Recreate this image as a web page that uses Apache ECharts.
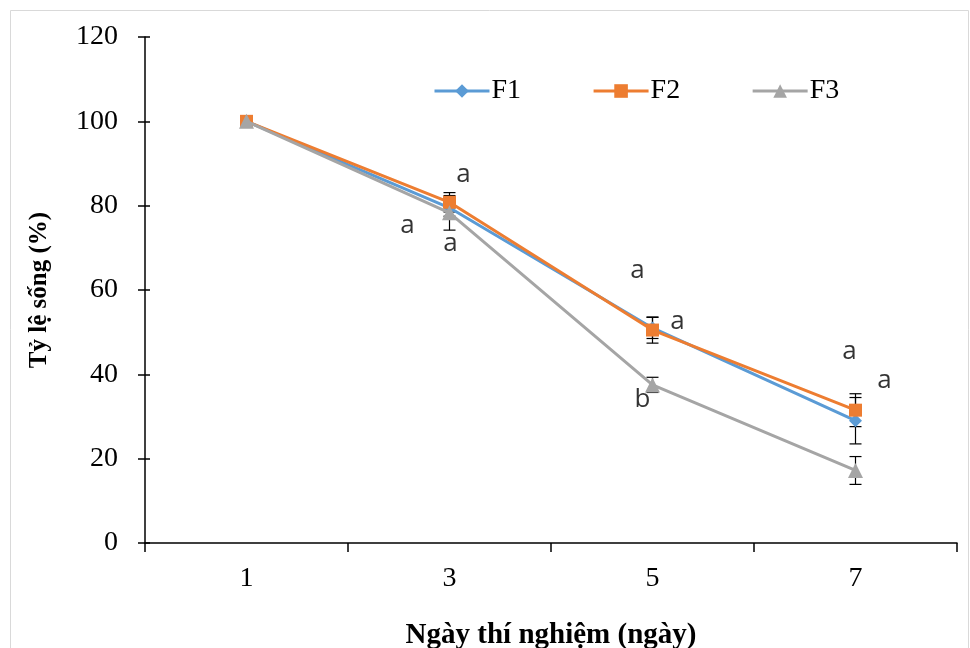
<!DOCTYPE html>
<html><head><meta charset="utf-8">
<script src="https://cdn.jsdelivr.net/npm/echarts@6/dist/echarts.min.js"></script>
<style>html,body{margin:0;padding:0;background:#fff;overflow:hidden}#c{width:970px;height:648px}</style>
</head><body><div id="c"></div>
<script>
const categories = ['1','3','5','7'];
const seriesNames = ['F1','F2','F3'];
const f1 = [100, 79.5, 51, 29];
const f2 = [100, 80.8, 50.5, 31.5];
const f3 = [100, 78.3, 37.5, 17.2];
const f1Err = [0, 2, 2.5, 5.5];
const f2Err = [0, 2.3, 3.1, 3.9];
const f3Err = [0, 4.1, 1.8, 3.3];
const yTicks = [0, 20, 40, 60, 80, 100, 120];
// significance letters: [category index, y value, letter]
const letters = [
  [1, 87.3, 'a', 14], [1, 75.2, 'a', -42], [1, 70.9, 'a', 1],
  [2, 64.5, 'a', -15], [2, 52.4, 'a', 25], [2, 34.1, 'b', -10],
  [3, 45.3, 'a', -6], [3, 38.4, 'a', 29]
];

const colors = ['#5B9BD5', '#ED7D31', '#A5A5A5'];
const symbols = ['diamond', 'rect', 'triangle'];
const symSizes = [13, 13, 15];
const values = [f1, f2, f3];
const errs = [f1Err, f2Err, f3Err];

const chart = echarts.init(document.getElementById('c'));
const lineSeries = seriesNames.map((n, i) => ({
  name: n, type: 'line', data: values[i], z: 3 + i,
  symbol: symbols[i], symbolSize: symSizes[i], showAllSymbol: true,
  lineStyle: { color: colors[i], width: 3 },
  itemStyle: { color: colors[i], borderWidth: 0 },
  emphasis: { disabled: true }
}));
const errSeries = seriesNames.map((n, i) => ({
  type: 'custom', z: 2, silent: true,
  data: values[i].map((v, j) => [j, v - errs[i][j], v + errs[i][j]]).filter(d => d[2] > d[1]),
  renderItem: (params, api) => {
    const lo = api.coord([api.value(0), api.value(1)]);
    const hi = api.coord([api.value(0), api.value(2)]);
    const w = 6;
    const st = { stroke: '#000', lineWidth: 1.2 };
    return { type: 'group', children: [
      { type: 'line', shape: { x1: lo[0], y1: lo[1], x2: hi[0], y2: hi[1] }, style: st },
      { type: 'line', shape: { x1: lo[0]-w, y1: lo[1], x2: lo[0]+w, y2: lo[1] }, style: st },
      { type: 'line', shape: { x1: hi[0]-w, y1: hi[1], x2: hi[0]+w, y2: hi[1] }, style: st }
    ]};
  }
}));
const letterSeries = {
  type: 'scatter', silent: true, z: 10, symbolSize: 1,
  itemStyle: { color: 'rgba(0,0,0,0)' },
  data: letters.map(l => ({ value: [l[0], l[1]], label: { offset: [l[3], 0] }, name: l[2] })),
  label: { show: true, position: 'inside', formatter: p => p.name,
    fontFamily: 'Open Sans', fontSize: 26, color: '#000' }
};

const serif = 'Liberation Serif';
chart.setOption({
  animation: false,
  backgroundColor: '#fff',
  graphic: [{ type: 'rect', shape: { x: 10.5, y: 10.5, width: 958, height: 650 },
    style: { fill: 'none', stroke: '#d9d9d9', lineWidth: 1 }, silent: true }],
  grid: { left: 145, right: 13, top: 37, bottom: 105, outerBoundsMode: 'none', containLabel: false },
  legend: {
    data: seriesNames.map(n => ({ name: n })), left: 433, top: 77, padding: 0,
    itemWidth: 55, itemHeight: 17, itemGap: 71,
    lineStyle: { width: 3 },
    textStyle: { fontFamily: serif, fontSize: 28, color: '#000', padding: [0,0,0,-3] }
  },
  xAxis: {
    type: 'category', data: categories, boundaryGap: true,
    name: 'Ngày thí nghiệm (ngày)', nameLocation: 'middle', nameGap: 78,
    nameTextStyle: { fontFamily: serif, fontSize: 29, fontWeight: 'bold', color: '#000' },
    axisLine: { lineStyle: { color: '#000', width: 1.5 } },
    axisTick: { show: true, length: 9, lineStyle: { color: '#000', width: 1.5 } },
    axisLabel: { fontFamily: serif, fontSize: 28, color: '#000', margin: 22 },
    splitLine: { show: false }
  },
  yAxis: [{
    type: 'value', min: yTicks[0], max: yTicks[yTicks.length - 1], interval: 20,
    name: 'Tỷ lệ sống (%)', nameLocation: 'middle', nameGap: 93, nameRotate: 90,
    nameTextStyle: { fontFamily: serif, fontSize: 25, fontWeight: 'bold', color: '#000' },
    axisLine: { show: true, lineStyle: { color: '#000', width: 1.5 } },
    axisTick: { show: true, length: 7, lineStyle: { color: '#000', width: 1.5 } },
    axisLabel: { fontFamily: serif, fontSize: 28, color: '#000', margin: 27 },
    splitLine: { show: false }
  }, {
    type: 'value', position: 'left', min: yTicks[0], max: yTicks[yTicks.length - 1], interval: 20,
    axisLine: { show: false }, axisLabel: { show: false }, splitLine: { show: false },
    axisTick: { show: true, inside: true, length: 5, lineStyle: { color: '#000', width: 1.5 } }
  }],
  series: [...errSeries, ...lineSeries, letterSeries]
});
</script></body></html>
